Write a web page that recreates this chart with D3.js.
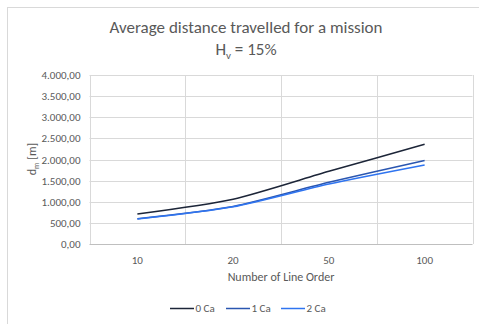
<!DOCTYPE html>
<html><head><meta charset="utf-8">
<script src="https://cdn.jsdelivr.net/npm/d3@7"></script>
<style>body{margin:0;background:#fff}svg{display:block}</style>
</head><body>
<script>
const categories = ["10", "20", "50", "100"];
const series0Ca = [710, 1060, 1720, 2360];
const series1Ca = [600, 890, 1460, 1975];
const series2Ca = [590, 880, 1420, 1870];
const seriesNames = ["0 Ca", "1 Ca", "2 Ca"];
const yTicks = [0, 500, 1000, 1500, 2000, 2500, 3000, 3500, 4000];
const colors = ["#1c2538", "#2a56b0", "#2f74f0"];

const W = 479, H = 324;
const svg = d3.select("body").append("svg").attr("width", W).attr("height", H)
  .style("font-family", "Carlito, 'Open Sans', 'Noto Sans', sans-serif");

// outer chart border (top & left visible)
svg.append("rect").attr("x", 7.5).attr("y", 7.5).attr("width", W + 10).attr("height", H + 10)
  .attr("fill", "none").attr("stroke", "#d9d9d9");

const L = 89.5, R = 472.5, T = 75, B = 244;
const x = d3.scaleBand().domain(categories).range([L, R]);
const y = d3.scaleLinear().domain([0, 4000]).range([B, T]);

// horizontal gridlines
svg.append("g").selectAll("line").data(yTicks).join("line")
  .attr("x1", L).attr("x2", R)
  .attr("y1", d => Math.round(y(d)) + 0.5).attr("y2", d => Math.round(y(d)) + 0.5)
  .attr("stroke", d => d === 0 ? "#bfbfbf" : "#d9d9d9");
// vertical gridlines at category boundaries
const bounds = categories.map(c => x(c)).concat([x.range()[1]]);
svg.append("g").selectAll("line").data(bounds).join("line")
  .attr("x1", d => Math.round(d) + 0.5).attr("x2", d => Math.round(d) + 0.5)
  .attr("y1", T).attr("y2", B)
  .attr("stroke", "#d9d9d9");

const fmt = d3.formatLocale({decimal: ",", thousands: ".", grouping: [3], currency: ["", ""]}).format(",.2f");

// y axis labels
svg.append("g").selectAll("text").data(yTicks).join("text")
  .attr("x", 80.5).attr("y", d => y(d) + 4).attr("text-anchor", "end")
  .attr("font-size", 11).attr("fill", "#595959").text(d => fmt(d));

// x axis labels
svg.append("g").selectAll("text").data(categories).join("text")
  .attr("x", d => x(d) + x.bandwidth() / 2).attr("y", 264).attr("text-anchor", "middle")
  .attr("font-size", 11).attr("fill", "#595959").text(d => d);

// axis titles
svg.append("text").attr("x", 281).attr("y", 281).attr("text-anchor", "middle")
  .attr("font-size", 12).attr("fill", "#595959").text("Number of Line Order");
const yt = svg.append("text").attr("transform", "translate(36,159) rotate(-90)")
  .attr("text-anchor", "middle").attr("font-size", 12).attr("fill", "#595959");
yt.append("tspan").text("d");
yt.append("tspan").attr("font-size", 8).attr("dy", 3).text("m");
yt.append("tspan").attr("dy", -3).text(" [m]");

// title
svg.append("text").attr("x", 246).attr("y", 33).attr("text-anchor", "middle")
  .attr("font-size", 17).attr("fill", "#595959").text("Average distance travelled for a mission");
const t2 = svg.append("text").attr("x", 246).attr("y", 55).attr("text-anchor", "middle")
  .attr("font-size", 17).attr("fill", "#595959");
t2.append("tspan").text("H");
t2.append("tspan").attr("font-size", 11).attr("dy", 3.5).text("v");
t2.append("tspan").attr("dy", -3.5).text(" = 15%");

// lines
const allSeries = [series0Ca, series1Ca, series2Ca];
const line = d3.line().x((d, i) => x(categories[i]) + x.bandwidth() / 2).y(d => y(d))
  .curve(d3.curveCardinal.tension(0.3));
allSeries.forEach((s, k) => {
  svg.append("path").datum(s).attr("d", line).attr("fill", "none")
    .attr("stroke", colors[k]).attr("stroke-width", 1.5);
});

// legend
const legX = [170, 226, 281];
seriesNames.forEach((n, k) => {
  svg.append("line").attr("x1", legX[k]).attr("x2", legX[k] + 24).attr("y1", 308.5).attr("y2", 308.5)
    .attr("stroke", colors[k]).attr("stroke-width", 1.5);
  svg.append("text").attr("x", legX[k] + 25.5).attr("y", 312).attr("font-size", 11)
    .attr("fill", "#595959").text(n);
});
</script>
</body></html>
